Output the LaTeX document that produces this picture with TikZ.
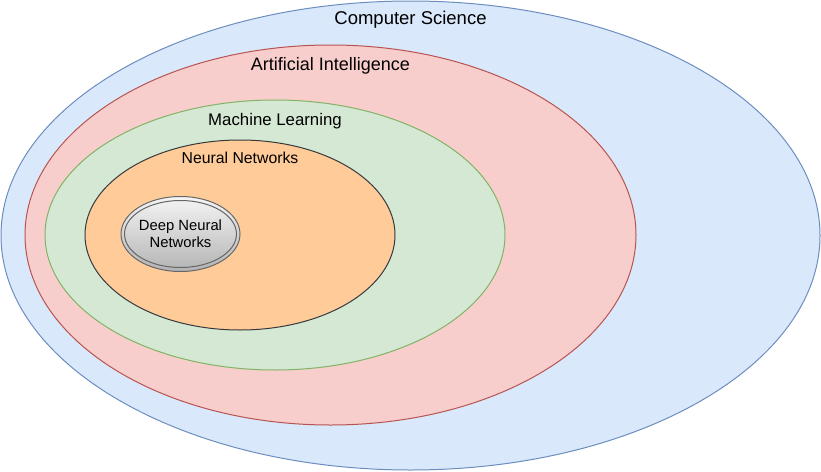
\documentclass[tikz,border=0pt]{standalone}
\usepackage{fontspec}
\setmainfont{Liberation Sans}
\usetikzlibrary{shapes.geometric,positioning}

\definecolor{csfill}{HTML}{DAE8FC}
\definecolor{csline}{HTML}{6C8EBF}
\definecolor{aifill}{HTML}{F8CECC}
\definecolor{ailine}{HTML}{B85450}
\definecolor{mlfill}{HTML}{D5E8D4}
\definecolor{mlline}{HTML}{82B366}
\definecolor{nnfill}{HTML}{FFCC99}
\definecolor{nnline}{HTML}{36393D}
\definecolor{dnntop}{HTML}{F5F5F5}
\definecolor{dnnbottom}{HTML}{B3B3B3}
\definecolor{dnnline}{HTML}{666666}

\begin{document}
\begin{tikzpicture}[x=1pt,y=-1pt,
  field/.style={ellipse,draw,line width=1pt,inner sep=0pt},
  title/.style={inner sep=0pt,text height=0.72em,text depth=0pt,font=\fontsize{#1}{#1}\selectfont}]
\useasboundingbox (0,0) rectangle (821,471);

\node[field,fill=csfill,draw=csline,minimum width=819pt,minimum height=469pt] (cs) at (410.5,235.5) {};
\node[field,fill=aifill,draw=ailine,minimum width=611pt,minimum height=380pt] (ai) at (330.5,235) {};
\node[field,fill=mlfill,draw=mlline,minimum width=460pt,minimum height=270pt] (ml) at (275,235) {};
\node[field,fill=nnfill,draw=nnline,minimum width=310pt,minimum height=190pt] (nn) at (240,235) {};
\node[field,top color=dnntop,bottom color=dnnbottom,draw=dnnline,minimum width=119pt,minimum height=75pt,
  align=center,font=\fontsize{14.8}{17}\selectfont] (dnn) at (180.5,234) {Deep Neural\\Networks};
\node[field,draw=dnnline,minimum width=112pt,minimum height=67pt] (dnninner) at (dnn.center) {};

\node[title=18.5,below=17pt of cs.north] (cslabel) {Computer Science};
\node[title=18,below=18.5pt of ai.north] (ailabel) {Artificial Intelligence};
\node[title=16.8,below=18.3pt of ml.north] (mllabel) {Machine Learning};
\node[title=15.8,below=16.5pt of nn.north] (nnlabel) {Neural Networks};

\end{tikzpicture}
\end{document}
